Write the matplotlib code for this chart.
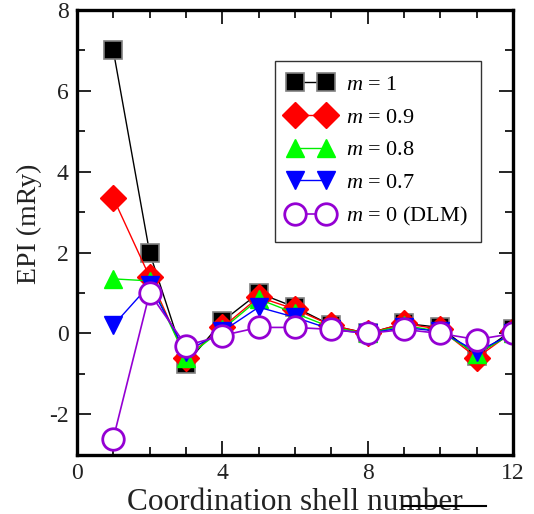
import matplotlib
matplotlib.use("Agg")
import matplotlib.pyplot as plt
from matplotlib.lines import Line2D
from matplotlib.ticker import MultipleLocator

plt.rcParams['font.family'] = ['Liberation Serif', 'DejaVu Serif']
plt.rcParams['mathtext.fontset'] = 'custom'
plt.rcParams['mathtext.rm'] = 'Liberation Serif'
plt.rcParams['mathtext.it'] = 'Liberation Serif:italic'
plt.rcParams['axes.unicode_minus'] = False

shells = [1, 2, 3, 4, 5, 6, 7, 8, 9, 10, 11, 12]
epi_m10 = [7.0, 2.0, -0.75, 0.3, 1.0, 0.65, 0.2, 0.0, 0.25, 0.15, -0.55, 0.1]
epi_m09 = [3.35, 1.4, -0.6, 0.15, 0.9, 0.6, 0.2, 0.0, 0.25, 0.1, -0.6, 0.05]
epi_m08 = [1.35, 1.3, -0.6, 0.1, 0.85, 0.5, 0.15, 0.0, 0.2, 0.05, -0.5, 0.0]
epi_m07 = [0.2, 1.2, -0.45, 0.05, 0.65, 0.4, 0.1, 0.0, 0.15, 0.05, -0.45, 0.0]
epi_dlm = [-2.6, 1.0, -0.3, -0.05, 0.15, 0.15, 0.1, 0.0, 0.1, 0.0, -0.15, 0.0]

fig = plt.figure(figsize=(5.34, 5.14), dpi=100)
ax = fig.add_axes([0.144, 0.115, 0.817, 0.866])

ax.plot(shells, epi_m10, color='black', lw=1, marker='s', ms=13,
        mfc='black', mec='#808080', mew=1.2, label='$m$ = 1')
ax.plot(shells, epi_m09, color='red', lw=1, marker='D', ms=13,
        mfc='red', mec='red', label='$m$ = 0.9')
ax.plot(shells, epi_m08, color='#00ee00', lw=1, marker='^', ms=13,
        mfc='#00ff00', mec='#00ff00', label='$m$ = 0.8')
ax.plot(shells, epi_m07, color='blue', lw=1, marker='v', ms=13,
        mfc='blue', mec='blue', label='$m$ = 0.7')
ax.plot(shells, epi_dlm, color='#9400d3', lw=1.2, marker='o', ms=15.5,
        mfc='white', mec='#9400d3', mew=2, label='$m$ = 0 (DLM)')

ax.set_xlim(0, 12)
ax.set_ylim(-3, 8)
ax.xaxis.set_major_locator(MultipleLocator(4))
ax.xaxis.set_minor_locator(MultipleLocator(1))
ax.yaxis.set_major_locator(MultipleLocator(2))
ax.yaxis.set_minor_locator(MultipleLocator(1))
ax.tick_params(which='both', direction='in', top=True, right=True,
               labelsize=17, width=1.2, pad=6, labelcolor='#222222')
ax.tick_params(which='major', length=10)
ax.tick_params(which='minor', length=6)
for s in ax.spines.values():
    s.set_linewidth(2.4)

ax.set_ylabel('EPI (mRy)', fontsize=20, color='#222222')
ax.yaxis.set_label_coords(-0.08, 0.52)
ax.set_xlabel('Coordination shell number', fontsize=22.5, color='#222222')
ax.xaxis.set_label_coords(0.5, -0.075)
ax.xaxis.label.set_va('top')

leg = ax.legend(loc='upper left', bbox_to_anchor=(275 / 534, 1 - 61 / 514),
                bbox_transform=fig.transFigure, borderaxespad=0,
                numpoints=2, handlelength=2.0, handletextpad=0.6,
                fontsize=16, fancybox=False, edgecolor='#333333',
                framealpha=1, labelspacing=0.55, borderpad=0.6)
leg.get_frame().set_linewidth(1)

fig.add_artist(Line2D([403 / 534, 486 / 534], [1 - 506 / 514, 1 - 506 / 514],
                      color='black', lw=1.5, transform=fig.transFigure))

fig.savefig('out.png', dpi=100)
